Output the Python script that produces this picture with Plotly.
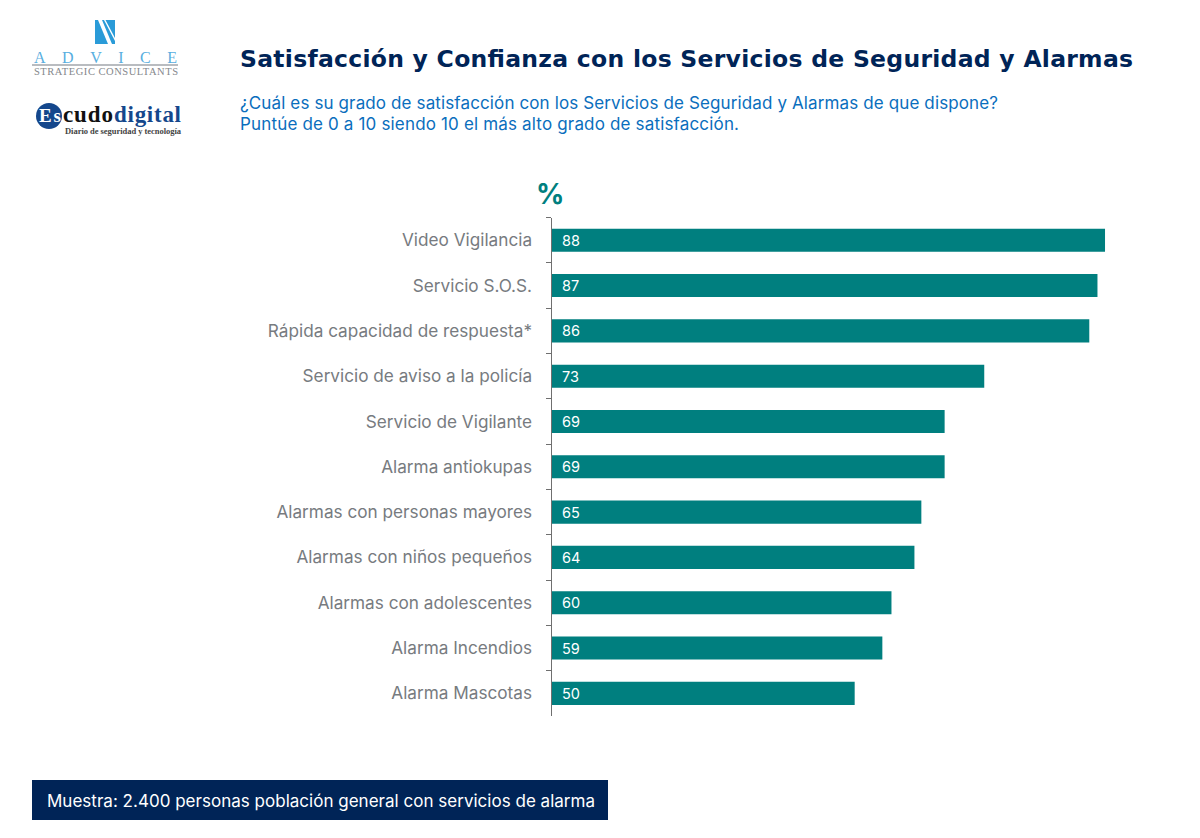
import json
import plotly.graph_objects as go

categories = ["Video Vigilancia", "Servicio S.O.S.", "Rápida capacidad de respuesta*",
              "Servicio de aviso a la policía", "Servicio de Vigilante", "Alarma antiokupas",
              "Alarmas con personas mayores", "Alarmas con niños pequeños",
              "Alarmas con adolescentes", "Alarma Incendios", "Alarma Mascotas"]
# Printed labels
values = [88, 87, 86, 73, 69, 69, 65, 64, 60, 59, 50]
# Bar lengths as drawn in the picture (the source's bars are not proportional to its labels)
bar_lengths = [88, 86.8, 85.5, 68.8, 62.5, 62.5, 58.8, 57.7, 54.05, 52.6, 48.2]

title_text = "Satisfacción y Confianza con los Servicios de Seguridad y Alarmas"
subtitle_lines = ["¿Cuál es su grado de satisfacción con los Servicios de Seguridad y Alarmas de que dispone?",
                  "Puntúe de 0 a 10 siendo 10 el más alto grado de satisfacción."]
footer_text = "Muestra: 2.400 personas población general con servicios de alarma"

W, H = 1200, 838
TEAL, NAVY, BLUE, GREY = "#007f7f", "#002457", "#0a6ebd", "#777b80"
LOGO_BLUE, LOGO_NAVY = "#2a9bd8", "#14478c"
FONT = "Inter, Liberation Sans, sans-serif"
SERIF = "Liberation Serif, serif"

def px(x): return x / W
def py(y): return 1 - y / H

text_widths = {}

def note(x, y, text, size, color, family=FONT, anchor="left", weight=None, width=None):
    if width:
        text_widths[text] = width
    return dict(xref="paper", yref="paper", x=px(x), y=py(y), text=text, showarrow=False,
                xanchor=anchor, yanchor="middle", align="left", borderpad=0,
                font=dict(size=size, color=color, family=family, weight=weight))

annotations = [
    note(239, 59, title_text, 23.5, NAVY, "DejaVu Sans, sans-serif", weight=700, width=893),
    note(239, 103, subtitle_lines[0], 17, BLUE, width=758),
    note(239, 124, subtitle_lines[1], 17, BLUE, width=499),
    note(550, 194, "%", 28, TEAL, anchor="center", weight=700),
    note(46, 801, footer_text, 17, "white", width=548),
    note(33, 57, "ADVICE", 16, "#58aee0", SERIF, width=143),
    note(33, 71, "STRATEGIC CONSULTANTS", 10.5, "#85888c", SERIF, width=144),
    note(38, 116, "Es", 19, "white", SERIF, weight=700, width=22),
    note(62, 114, "cudo", 23, "#111111", SERIF, weight=700, width=50),
    note(113, 114, "digital", 23, LOGO_NAVY, SERIF, weight=700, width=67),
    note(64, 131, "Diario de seguridad y tecnología", 8.5, "#444444", SERIF, weight=700, width=116),
]
for c, v in zip(categories, values):
    annotations.append(dict(xref="x", yref="y", x=0, y=c, text=str(v), showarrow=False,
                            xanchor="left", xshift=9.5, yanchor="middle", borderpad=0,
                            font=dict(size=14.5, color="white", family=FONT)))

def rect(x0, y0, x1, y1, color):
    return dict(type="rect", xref="paper", yref="paper", x0=px(x0), x1=px(x1), y0=py(y0), y1=py(y1),
                fillcolor=color, line_width=0, layer="below")

def poly(points, color):
    d = "M " + " L ".join(f"{px(x):.5f},{py(y):.5f}" for x, y in points) + " Z"
    return dict(type="path", xref="paper", yref="paper", path=d, fillcolor=color, line_width=0)

shapes = [
    rect(32, 780, 608, 820, NAVY),
    rect(95, 20, 115, 44, LOGO_BLUE),
    poly([(98, 20), (102, 20), (112, 44), (108, 44)], "white"),
    poly([(104, 20), (105.5, 20), (115, 38), (115, 41)], "white"),
    rect(32, 64, 178, 66, "#b9bcc0"),
    dict(type="circle", xref="paper", yref="paper", x0=px(36), x1=px(62), y0=py(103), y1=py(129),
         fillcolor=LOGO_NAVY, line_width=0, layer="below"),
]

fig = go.Figure(go.Bar(x=bar_lengths, y=categories, orientation="h",
                       marker=dict(color=TEAL, line_width=0), hoverinfo="skip"))
fig.update_layout(
    width=W, height=H, autosize=False, margin=dict(l=0, r=0, t=0, b=0),
    paper_bgcolor="white", plot_bgcolor="white", showlegend=False, bargap=0.49,
    annotations=annotations, shapes=shapes,
    xaxis=dict(domain=[px(551.5), px(1180.5)], range=[0, 100], visible=False),
    yaxis=dict(domain=[py(716), py(217.6)], autorange=False, range=[10.5, -0.5], type="category",
               categoryorder="array", categoryarray=categories,
               tickson="boundaries", ticks="outside", ticklen=5, tickcolor="#6f6f6f", tickwidth=1,
               showline=True, linecolor="#6f6f6f", linewidth=1, showgrid=False, zeroline=False,
               ticklabelstandoff=15, automargin=False,
               tickfont=dict(size=17.2, color=GREY, family=FONT)),
)
post = """
document.body.style.margin='0';
var widths = %s;
document.querySelectorAll('.annotation-text').forEach(function(t){
  var w = widths[t.textContent];
  if (w) { t.setAttribute('textLength', w); t.setAttribute('lengthAdjust', 'spacing'); }
});
""" % json.dumps(text_widths, ensure_ascii=False)
fig.write_html("out.html", config=dict(displayModeBar=False), post_script=post)
